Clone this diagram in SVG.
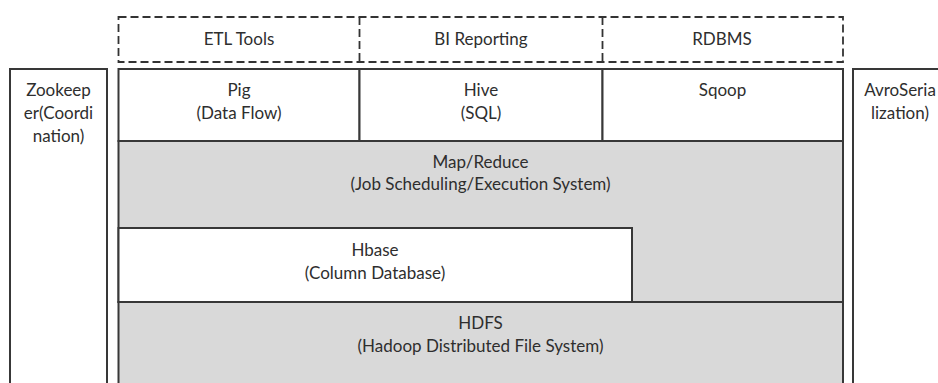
<svg xmlns="http://www.w3.org/2000/svg" width="938" height="383" viewBox="0 0 938 383">
<style>
text{font-family:Lato,"Liberation Sans",sans-serif;font-size:17px;fill:#2e2e2e;text-anchor:middle}
.box{stroke:#383838;stroke-width:2;fill:#fff}
.gray{fill:#d9d9d9}
.dash{stroke:#333;stroke-width:1.8;fill:none;stroke-dasharray:8 4}
</style>
<rect width="938" height="383" fill="#fff"/>
<g id="dashed-top">
<rect class="dash" x="118.5" y="17" width="724.5" height="45"/>
<line class="dash" x1="359.5" y1="17" x2="359.5" y2="62"/>
<line class="dash" x1="602.5" y1="17" x2="602.5" y2="62"/>
</g>
<g id="etl"><text x="239" y="45">ETL Tools</text></g>
<g id="bi"><text x="481" y="45">BI Reporting</text></g>
<g id="rdbms"><text x="722" y="45">RDBMS</text></g>
<g id="zookeeper">
<rect class="box" x="10" y="69" width="97" height="330"/>
<text x="58.5" y="96">Zookeep</text>
<text x="58.5" y="119">er(Coordi</text>
<text x="58.5" y="142">nation)</text>
</g>
<g id="avro">
<rect class="box" x="853" y="69" width="100" height="330"/>
<text x="900" y="96">AvroSeria</text>
<text x="900" y="119">lization)</text>
</g>
<g id="mapreduce">
<rect class="box gray" x="118.5" y="141" width="724.5" height="161"/>
<text x="480.5" y="168">Map/Reduce</text>
<text x="480.5" y="190">(Job Scheduling/Execution System)</text>
</g>
<g id="hdfs">
<rect class="box gray" x="118.5" y="302" width="724.5" height="100"/>
<text x="480.5" y="329">HDFS</text>
<text x="480.5" y="352">(Hadoop Distributed File System)</text>
</g>
<g id="hbase">
<rect class="box" x="118.5" y="228" width="513.5" height="74"/>
<text x="375" y="256">Hbase</text>
<text x="375" y="279">(Column Database)</text>
</g>
<g id="pig">
<rect class="box" x="118.5" y="69" width="241" height="72"/>
<text x="239" y="96">Pig</text>
<text x="239" y="119">(Data Flow)</text>
</g>
<g id="hive">
<rect class="box" x="359.5" y="69" width="243" height="72"/>
<text x="481" y="96">Hive</text>
<text x="481" y="119">(SQL)</text>
</g>
<g id="sqoop">
<rect class="box" x="602.5" y="69" width="240.5" height="72"/>
<text x="722.5" y="96">Sqoop</text>
</g>
</svg>
